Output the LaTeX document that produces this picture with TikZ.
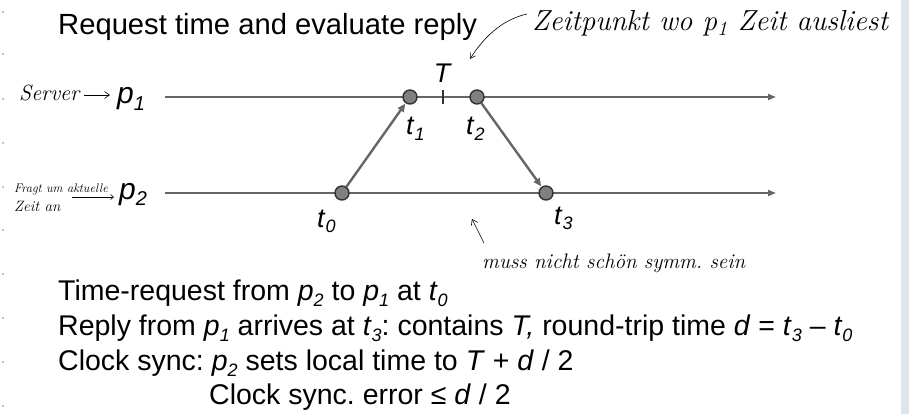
\documentclass[tikz,border=0pt]{standalone}
\usepackage{fontspec}
\setmainfont{Liberation Sans}
\newfontfamily\hand{Latin Modern Roman}
\usetikzlibrary{arrows.meta}
\definecolor{lineg}{HTML}{666666}
\definecolor{dotg}{HTML}{808080}
\definecolor{dotb}{HTML}{333333}
\definecolor{strip}{HTML}{DDE5ED}
\definecolor{pale}{HTML}{BBBBBB}
\newcommand\sub[2]{\textit{#1}\raisebox{-0.22em}{\fontsize{18}{18}\selectfont\textit{#2}}}
\newcommand\bsub[2]{\textit{#1}\raisebox{-0.22em}{\fontsize{20}{20}\selectfont\textit{#2}}}
\tikzset{
  tline/.style={draw=lineg, line width=2.6pt, -{Triangle[length=8pt,width=6pt]}},
  msg/.style={draw=lineg, line width=2.4pt, shorten >=0.5pt, -{Triangle[length=8pt,width=7pt]}},
  dot/.style={circle, fill=dotg, draw=dotb, line width=1.4pt, minimum size=14pt, inner sep=0pt},
  txt/.style={anchor=base west, inner sep=0pt, font=\fontsize{28.5}{34}\selectfont},
  lbl/.style={anchor=base west, inner sep=0pt, font=\fontsize{27}{30}\selectfont},
  hw/.style={anchor=base west, inner sep=0pt, text=black},
  hwline/.style={draw=black, line width=0.6pt},
  sdot/.style={circle, fill=pale, inner sep=0pt, minimum size=2.5pt}
}
\begin{document}
\frenchspacing
\begin{tikzpicture}[x=1pt,y=-1pt]
\useasboundingbox (0,0) rectangle (909,414);
\fill[strip] (901,0) rectangle (909,414);
% left margin dots
\foreach \yy [count=\i] in {12,54,99,143,187,230,274,318,362,406}
  \node[sdot] (m\i) at (3,\yy) {};
% title
\node[anchor=base west, inner sep=0pt, font=\fontsize{29.2}{34}\selectfont] (title) at (58,35) {Request time and evaluate reply};
% time lines
\coordinate (a1) at (165,97);
\coordinate (b1) at (776,97);
\coordinate (a2) at (165,193);
\coordinate (b2) at (776,193);
\draw[tline] (a1) -- (b1);
\draw[tline] (a2) -- (b2);
% process labels
\node[anchor=base west, inner sep=0pt, font=\fontsize{30}{34}\selectfont] (p1) at (117,104) {\bsub{p}{1}};
\node[anchor=base west, inner sep=0pt, font=\fontsize{30}{34}\selectfont] (p2) at (119,199) {\bsub{p}{2}};
% tick T
\coordinate (tk1) at (443,90);
\coordinate (tk2) at (443,104);
\draw[draw=dotb, line width=1.8pt] (tk1) -- (tk2);
\node[anchor=base, inner sep=0pt, font=\fontsize{27}{30}\selectfont] (T) at (443,83) {\textit{T}};
% events
\node[dot] (t1) at (410,97) {};
\node[dot] (t2) at (477,97) {};
\node[dot] (t0) at (342,193) {};
\node[dot] (t3) at (546,193) {};
\draw[msg] (t0) -- (t1);
\draw[msg] (t2) -- (t3);
\node[lbl] (l1) at (406,135) {\sub{t}{1}};
\node[lbl] (l2) at (466,135) {\sub{t}{2}};
\node[lbl] (l0) at (317,227) {\sub{t}{0}};
\node[lbl] (l3) at (554,224) {\sub{t}{3}};
% bullet text
\node[txt] (r1) at (58,300) {Time-request from \sub{p}{2} to \sub{p}{1} at \sub{t}{0}};
\node[txt] (r2) at (58,335) {Reply from \sub{p}{1} arrives at \sub{t}{3}: contains \textit{T,} round-trip time \textit{d} = \sub{t}{3} \textendash{} \sub{t}{0}};
\node[txt] (r3) at (58,370) {Clock sync: \sub{p}{2} sets local time to \textit{T} + \textit{d} / 2};
\node[txt] (r4) at (209,404) {Clock sync. error ≤ \textit{d} / 2};
% handwritten notes
\node[hw, font=\hand\itshape\fontsize{29}{32}\selectfont] (n1) at (532,31) {Zeitpunkt wo p\textsubscript{1} Zeit ausliest};
\coordinate (c1) at (527,14);
\coordinate (c2) at (470,59);
\draw[hwline, -{Straight Barb[length=5pt,width=6pt]}] (c1) .. controls (500,20) and (482,40) .. (c2);
\node[hw, font=\hand\itshape\fontsize{22}{24}\selectfont] (n2) at (19,101) {Server};
\coordinate (s1) at (84,95);
\coordinate (s2) at (110,95);
\draw[hwline, -{Straight Barb[length=5pt,width=7pt]}] (s1) -- (s2);
\node[hw, font=\hand\itshape\fontsize{12.5}{14}\selectfont] (n3) at (14,193) {Fragt um aktuelle};
\node[hw, font=\hand\itshape\fontsize{15}{16}\selectfont] (n4) at (14,211) {Zeit an};
\coordinate (u1) at (72,197);
\coordinate (u2) at (114,197);
\draw[hwline, -{Straight Barb[length=3pt,width=5pt]}] (u1) -- (u2);
\node[hw, font=\hand\itshape\fontsize{21}{22}\selectfont] (n5) at (482,268) {muss nicht schön symm. sein};
\coordinate (w1) at (484,243);
\coordinate (w2) at (472,219);
\draw[hwline, -{Straight Barb[length=5pt,width=7pt]}] (w1) -- (w2);
\end{tikzpicture}
\end{document}
